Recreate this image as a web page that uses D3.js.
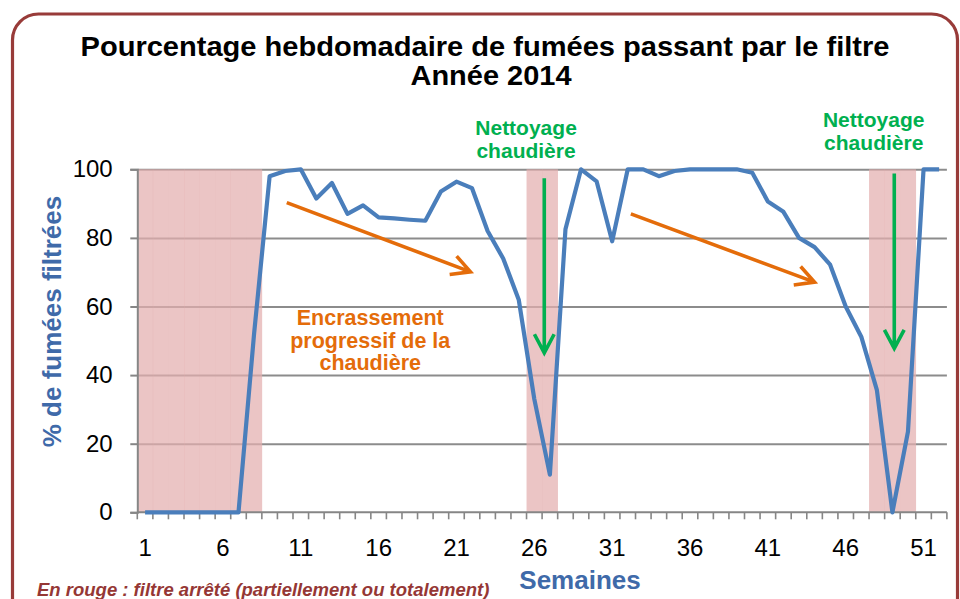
<!DOCTYPE html>
<html>
<head>
<meta charset="utf-8">
<script src="https://cdn.jsdelivr.net/npm/d3@7"></script>
<style>
  body { margin: 0; background: #fff; }
  text { font-family: "Liberation Sans", Arial, sans-serif; }
</style>
</head>
<body>
<div id="chart"></div>
<script>
// weekly data
var weeks = d3.range(1, 53);
var filtered = [0, 0, 0, 0, 0, 0, 0, 52, 98, 99.5,
  100, 91.5, 96, 87, 89.5, 86, 85.7, 85.3, 85, 93.5,
  96.4, 94.5, 82, 74, 62, 33, 11, 82.5, 100, 96.5,
  79, 100, 100, 98, 99.5, 100, 100, 100, 100, 99,
  90.6, 87.6, 80, 77.3, 72.2, 60, 51.2, 35.7, 0, 23.5,
  100, 100];
// weeks where the filter was stopped (red bands)
var stopWeeks = [1, 2, 3, 4, 5, 6, 7, 8, 26, 27, 48, 49, 50];
var yTicks = [0, 20, 40, 60, 80, 100];
var xLabels = [1, 6, 11, 16, 21, 26, 31, 36, 41, 46, 51];

// annotations in data coordinates (week, value)
var trendArrows = [
  {x1: 10.1, y1: 90.3, x2: 21.9, y2: 70.1},
  {x1: 32.2, y1: 87, x2: 44.0, y2: 67.1}
];
var cleanArrows = [
  {x1: 26.64, y1: 97.4, x2: 26.64, y2: 46.5},
  {x1: 49.12, y1: 98.8, x2: 49.12, y2: 47.8}
];
var cleanLabels = [{x: 25.47, y: 110}, {x: 47.8, y: 112.2}];

var W = 960, H = 599;
var margin = {top: 169.3, right: 13.1, bottom: 86.7, left: 137.3};
var width = W - margin.left - margin.right,
    height = H - margin.top - margin.bottom;

var svg = d3.select("#chart").append("svg")
  .attr("width", W)
  .attr("height", H);

// rounded frame
svg.append("rect")
  .attr("x", 12.5).attr("y", 14)
  .attr("width", 945).attr("height", 620)
  .attr("rx", 26)
  .style("fill", "none")
  .style("stroke", "#983b39")
  .style("stroke-width", 3.2);

// title
svg.append("text")
  .attr("x", 485).attr("y", 55.5)
  .attr("text-anchor", "middle")
  .attr("textLength", 809).attr("lengthAdjust", "spacingAndGlyphs")
  .style("font-size", "28px").style("font-weight", "bold")
  .text("Pourcentage hebdomadaire de fumées passant par le filtre");
svg.append("text")
  .attr("x", 491).attr("y", 85)
  .attr("text-anchor", "middle")
  .attr("textLength", 161).attr("lengthAdjust", "spacingAndGlyphs")
  .style("font-size", "28px").style("font-weight", "bold")
  .text("Année 2014");

var g = svg.append("g")
  .attr("transform", "translate(" + margin.left + "," + margin.top + ")");

var x = d3.scaleBand().domain(weeks).range([0, width]).padding(0);
var xl = d3.scaleLinear().domain([0.5, 52.5]).range([0, width]); // for annotations
var y = d3.scaleLinear().domain([0, 100]).range([height, 0]);

// gridlines
g.append("g")
  .call(d3.axisLeft(y).tickValues(yTicks.slice(1)).tickSize(-width).tickFormat(""))
  .call(function(s) { s.select(".domain").remove(); })
  .selectAll("line")
  .style("stroke", "#8c8c8c")
  .style("stroke-width", 2);

// red bands
g.selectAll(".band")
  .data(stopWeeks)
  .enter().append("rect")
  .attr("class", "band")
  .attr("x", function(d) { return x(d); })
  .attr("width", x.bandwidth() + 0.3)
  .attr("y", y(100))
  .attr("height", y(0) - y(100))
  .style("fill", "#e3aeae")
  .style("opacity", 0.72);

// y axis
var yAxis = g.append("g")
  .call(d3.axisLeft(y).tickValues(yTicks).tickSize(7).tickPadding(17.6));
yAxis.select(".domain").style("stroke", "#868686").style("stroke-width", 2);
yAxis.selectAll("line").style("stroke", "#868686").style("stroke-width", 2);
yAxis.selectAll("text").style("font-size", "24px").style("fill", "#000")
  .attr("font-family", null);

// x axis: line + ticks at week boundaries
var bounds = weeks.map(function(w) { return x(w); }).concat([width]);
g.append("line")
  .attr("x1", 0).attr("x2", width)
  .attr("y1", height).attr("y2", height)
  .style("stroke", "#868686").style("stroke-width", 2);
g.selectAll(".xtick")
  .data(bounds)
  .enter().append("line")
  .attr("class", "xtick")
  .attr("x1", function(d) { return d; }).attr("x2", function(d) { return d; })
  .attr("y1", height).attr("y2", height + 7)
  .style("stroke", "#868686").style("stroke-width", 1.6);

var xAxis = g.append("g")
  .attr("transform", "translate(0," + height + ")")
  .call(d3.axisBottom(x).tickValues(xLabels).tickSize(0).tickPadding(26.7));
xAxis.select(".domain").remove();
xAxis.selectAll("text").style("font-size", "24px").style("fill", "#000")
  .attr("font-family", null);

// main line
var line = d3.line()
  .x(function(d, i) { return x(weeks[i]) + x.bandwidth() / 2; })
  .y(function(d) { return y(d); });

g.append("path")
  .datum(filtered)
  .attr("d", line)
  .style("fill", "none")
  .style("stroke", "#4a7ebb")
  .style("stroke-width", 4.2)
  .style("stroke-linejoin", "round");

// arrows with open chevron heads
function arrow(sel, a, color) {
  var px1 = xl(a.x1), py1 = y(a.y1), px2 = xl(a.x2), py2 = y(a.y2);
  var ang = Math.atan2(py2 - py1, px2 - px1);
  var len = 21, spread = 28 * Math.PI / 180;
  var h1 = [px2 - len * Math.cos(ang - spread), py2 - len * Math.sin(ang - spread)];
  var h2 = [px2 - len * Math.cos(ang + spread), py2 - len * Math.sin(ang + spread)];
  sel.append("path")
    .attr("d", "M" + px1 + "," + py1 + "L" + px2 + "," + py2 +
      "M" + h1[0] + "," + h1[1] + "L" + px2 + "," + py2 + "L" + h2[0] + "," + h2[1])
    .style("fill", "none")
    .style("stroke", color)
    .style("stroke-width", 3.6)
    .style("stroke-linejoin", "miter");
}
trendArrows.forEach(function(a) { arrow(g, a, "#e46c0a"); });
cleanArrows.forEach(function(a) { arrow(g, a, "#00b050"); });

// annotation texts
cleanLabels.forEach(function(c) {
  var t = g.append("text")
    .attr("x", xl(c.x)).attr("y", y(c.y))
    .attr("text-anchor", "middle")
    .style("font-size", "21px").style("font-weight", "bold")
    .style("fill", "#00b050");
  t.append("tspan").attr("x", xl(c.x)).attr("dy", 0).text("Nettoyage");
  t.append("tspan").attr("x", xl(c.x)).attr("dy", 23).text("chaudière");
});

var enc = g.append("text")
  .attr("x", xl(15.46)).attr("y", y(54.5))
  .attr("text-anchor", "middle")
  .style("font-size", "21.5px").style("font-weight", "bold")
  .style("fill", "#e46c0a");
["Encrassement", "progressif de la", "chaudière"].forEach(function(s, i) {
  enc.append("tspan").attr("x", xl(15.46)).attr("dy", i ? 22.5 : 0).text(s);
});

// axis titles
svg.append("text")
  .attr("transform", "translate(60.5,321.5) rotate(-90)")
  .attr("text-anchor", "middle")
  .style("font-size", "26px").style("font-weight", "bold")
  .style("fill", "#3f6aa9")
  .text("% de fumées filtrées");
svg.append("text")
  .attr("x", 580).attr("y", 589)
  .attr("text-anchor", "middle")
  .style("font-size", "26px").style("font-weight", "bold")
  .style("fill", "#3f6aa9")
  .text("Semaines");

// footnote
svg.append("text")
  .attr("x", 37).attr("y", 596)
  .style("font-size", "18.5px").style("font-weight", "bold")
  .style("font-style", "italic")
  .style("fill", "#953735")
  .text("En rouge : filtre arrêté (partiellement ou totalement)");
</script>
</body>
</html>
